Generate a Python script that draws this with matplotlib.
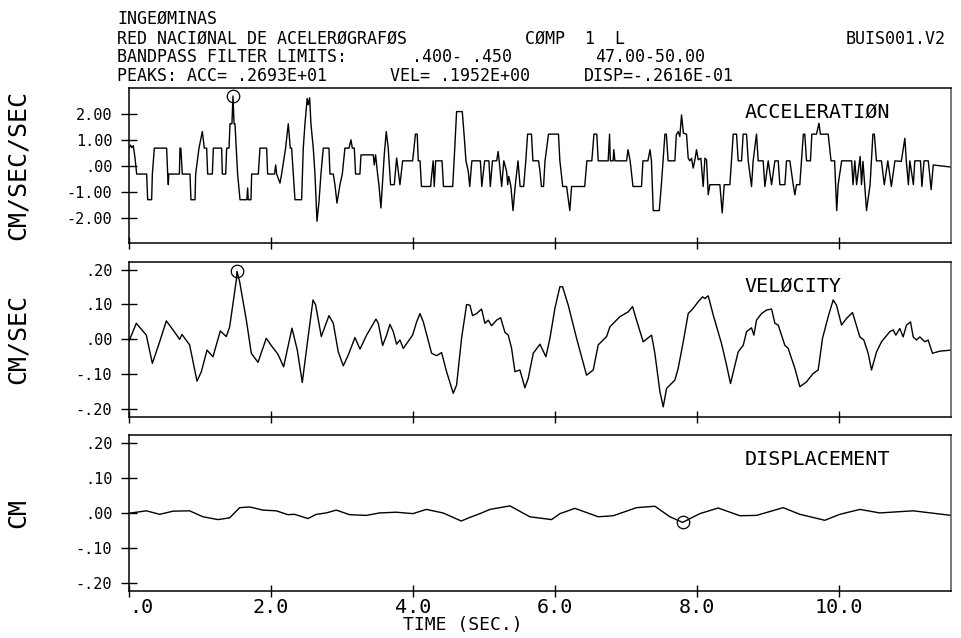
import matplotlib
matplotlib.use('Agg')
import matplotlib.pyplot as plt

plt.rcParams['font.family'] = ['DejaVu Sans Mono']

# acceleration (cm/s/s)
acc_t = [0.00, 0.02, 0.04, 0.06, 0.085, 0.108, 0.249, 0.263, 0.319, 0.329, 0.357, 0.53, 0.545, 0.554, 0.56,
         0.71, 0.718, 0.73, 0.751, 0.859, 0.873, 0.93, 0.939, 0.986, 1.033, 1.061, 1.094, 1.108, 1.174, 1.188,
         1.305, 1.315, 1.362, 1.376, 1.409, 1.423, 1.45, 1.465, 1.48, 1.493, 1.53, 1.564, 1.66, 1.671, 1.68,
         1.718, 1.728, 1.822, 1.845, 1.939, 1.953, 2.05, 2.066, 2.08, 2.127, 2.15, 2.206, 2.244, 2.272, 2.291,
         2.338, 2.432, 2.455, 2.479, 2.51, 2.525, 2.545, 2.563, 2.596, 2.62, 2.648, 2.676, 2.704, 2.737, 2.817,
         2.831, 2.878, 2.901, 2.93, 2.972, 3.005, 3.042, 3.099, 3.127, 3.146, 3.174, 3.192, 3.253, 3.268, 3.441,
         3.455, 3.474, 3.502, 3.521, 3.549, 3.573, 3.596, 3.624, 3.652, 3.685, 3.737, 3.77, 3.817,
         3.855, 3.995, 4.01, 4.035, 4.06, 4.075, 4.10, 4.12, 4.25, 4.26, 4.285, 4.30, 4.32, 4.41, 4.43, 4.56,
         4.58, 4.615, 4.695, 4.72, 4.747, 4.78, 4.80, 4.83, 4.95, 4.97, 5.01, 5.07, 5.09, 5.12, 5.18, 5.20,
         5.215, 5.25, 5.28, 5.32, 5.335, 5.35, 5.38, 5.41, 5.44, 5.48, 5.51, 5.56, 5.59, 5.615, 5.67, 5.69,
         5.77, 5.79, 5.81, 5.84, 5.86, 5.91, 6.05, 6.07, 6.11, 6.165, 6.21, 6.235, 6.42, 6.45, 6.52, 6.55,
         6.59, 6.61, 6.75, 6.77, 6.78, 6.82, 6.83, 6.845, 7.01, 7.03, 7.06, 7.10, 7.22, 7.24, 7.31, 7.34,
         7.36, 7.385, 7.47, 7.50, 7.55, 7.57, 7.595, 7.69, 7.71, 7.737, 7.76, 7.784, 7.81, 7.854, 7.878, 7.90,
         7.925, 7.948, 7.972, 7.995, 8.019, 8.056, 8.089, 8.113, 8.136, 8.16, 8.183, 8.30, 8.324, 8.357, 8.385,
         8.465, 8.512, 8.559, 8.582, 8.629, 8.652, 8.70, 8.723, 8.77, 8.793, 8.84, 8.864, 8.934, 8.958, 9.005,
         9.052, 9.099, 9.146, 9.169, 9.24, 9.263, 9.31, 9.357, 9.38, 9.404, 9.45, 9.474, 9.50, 9.52, 9.545,
         9.60, 9.62, 9.685, 9.72, 9.74, 9.85, 9.89, 9.94, 9.97, 9.99, 10.04, 10.18, 10.20, 10.225, 10.25,
         10.30, 10.32, 10.34, 10.39, 10.44, 10.48, 10.50, 10.53, 10.60, 10.64, 10.69, 10.74, 10.79, 10.88,
         10.93, 10.95, 10.98, 11.0, 11.05, 11.07, 11.15, 11.17, 11.20, 11.26, 11.30, 11.33, 11.58]
acc_v = [0.68, 0.80, 0.70, 0.78, 0.30, -0.32, -0.32, -1.31, -1.31, -0.32, 0.68, 0.68, -0.32, -0.73, -0.32,
         -0.32, 0.68, 0.68, -0.32, -0.32, -1.31, -1.31, -0.32, 0.68, 1.32, 0.68, 0.68, -0.32, -0.32, 0.68,
         0.68, -0.32, -0.32, 0.68, 0.68, 1.62, 1.62, 2.69, 1.62, 1.62, -0.32, -1.31, -1.31, -0.86, -1.31,
         -1.31, -0.32, -0.32, 0.68, 0.68, -0.32, -0.32, 0.03, -0.32, -0.67, -0.32, 0.68, 1.62, 0.68, 0.68,
         -1.31, -1.31, 0.68, 1.62, 2.60, 2.35, 2.62, 1.62, 0.68, -0.32, -2.14, -1.40, -0.32, 0.68, 0.68,
         -0.32, -0.32, -0.73, -1.44, -0.73, -0.32, 0.68, 0.68, 1.00, 0.68, 0.68, -0.32, -0.32, 0.42, 0.42,
         0.03, 0.42, -0.32, -0.73, -1.63, -0.60, 0.42, 1.32, 0.68, -0.73, -0.73, 0.30, -0.73,
         0.19, 0.19, 0.55, 1.22, 1.22, 0.19, 0.19, -0.80, -0.80, -0.47, 0.19, -0.80, 0.19, 0.19, -0.80, -0.80,
         0.19, 2.09, 2.09, 1.22, 0.19, -0.22, -0.80, 0.19, 0.19, -0.80, 0.19, 0.19, -0.80, 0.19, 0.19, 0.55,
         0.19, -0.80, 0.19, -0.22, -0.73, -0.41, -0.80, -1.73, -0.80, 0.19, -0.80, -0.80, 0.19, 1.22, 1.22, 0.19,
         0.19, -0.22, -0.80, -0.80, 0.17, 1.22, 1.22, 0.19, -0.80, -0.80, -1.73, -0.80, -0.80, 0.19, 0.19, 1.22,
         1.22, 0.19, 0.19, 1.22, 0.19, 0.19, 0.62, 0.19, 0.19, 0.62, 0.19, -0.80, -0.80, 0.19, 0.19, 0.62,
         0.19, -1.73, -1.73, -0.73, 1.22, 1.22, 0.19, 0.19, 1.19, 1.32, 1.13, 1.96, 1.26, 1.22, 0.29, 0.19,
         0.29, -0.09, 0.23, 0.62, 0.23, 0.29, -0.80, 0.29, 0.23, -1.12, -0.73, -0.73, -0.73, -1.82, -0.73,
         -0.73, 1.22, 1.22, 0.19, 0.19, 1.22, 1.22, 0.19, -0.80, 0.19, 1.22, 0.19, 0.19, -0.80, 0.19,
         -0.73, 0.19, 0.19, -0.73, -0.73, 0.19, 0.19, -0.73, -1.12, -0.73, -0.73, 0.19, 1.22, 1.22, 0.19,
         0.19, 1.22, 1.22, 1.64, 1.22, 1.22, 0.19, 0.19, -1.73, -0.73, 0.19, 0.19, -0.73, 0.19, -0.73,
         0.36, -0.73, 0.17, -1.73, -0.73, 1.22, 1.22, 0.19, 0.19, -0.73, 0.19, -0.80, 0.19, 0.17,
         1.06, 0.19, -0.73, 0.19, -0.73, 0.19, 0.19, -0.80, 0.19, 0.19, -0.92, 0.03, -0.05]

# velocity (cm/s)
vel_t = [0.0, 0.103, 0.244, 0.329, 0.432, 0.526, 0.62, 0.714, 0.746, 0.854, 0.958, 1.019, 1.099, 1.183,
         1.286, 1.371, 1.418, 1.512, 1.521, 1.559, 1.653, 1.723, 1.817, 1.934, 2.005, 2.099, 2.178, 2.296,
         2.371, 2.441, 2.521, 2.592, 2.629, 2.709, 2.817, 2.878, 2.948, 3.019, 3.089, 3.183, 3.254, 3.347,
         3.479, 3.512, 3.573, 3.629, 3.676, 3.723, 3.77, 3.817, 3.864, 3.995, 4.052, 4.099, 4.146, 4.263,
         4.333, 4.404, 4.474, 4.568, 4.615, 4.685, 4.756, 4.803, 4.84, 4.897, 4.967, 5.014, 5.061, 5.108,
         5.178, 5.235, 5.296, 5.343, 5.39, 5.437, 5.507, 5.577, 5.624, 5.695, 5.789, 5.873, 5.93, 6.0,
         6.07, 6.108, 6.188, 6.305, 6.446, 6.54, 6.61, 6.728, 6.775, 6.915, 7.033, 7.094, 7.15, 7.244,
         7.362, 7.408, 7.479, 7.526, 7.573, 7.69, 7.737, 7.808, 7.878, 7.948, 8.019, 8.08, 8.113, 8.16,
         8.23, 8.347, 8.418, 8.474, 8.582, 8.653, 8.7, 8.77, 8.803, 8.84, 8.911, 8.981, 9.052, 9.099,
         9.146, 9.239, 9.286, 9.38, 9.451, 9.545, 9.638, 9.709, 9.77, 9.85, 9.92, 9.967, 10.038, 10.108,
         10.192, 10.296, 10.352, 10.413, 10.46, 10.531, 10.601, 10.718, 10.765, 10.803, 10.859, 10.906,
         10.953, 11.01, 11.047, 11.094, 11.141, 11.211, 11.258, 11.319, 11.423, 11.58]
vel_v = [-0.005, 0.046, 0.012, -0.069, -0.007, 0.053, 0.027, 0.0, 0.014, -0.016, -0.12, -0.093, -0.031,
         -0.05, 0.024, 0.008, 0.036, 0.170, 0.195, 0.165, 0.055, -0.04, -0.066, 0.003, -0.018, -0.043,
         -0.079, 0.032, -0.031, -0.124, 0.003, 0.113, 0.099, 0.008, 0.068, 0.046, -0.036, -0.076, -0.045,
         0.005, -0.028, 0.012, 0.058, 0.046, -0.018, 0.012, 0.043, 0.022, -0.014, -0.002, -0.026, 0.012,
         0.050, 0.074, 0.050, -0.040, -0.047, -0.038, -0.093, -0.155, -0.131, 0.003, 0.100, 0.098, 0.068,
         0.074, 0.087, 0.046, 0.055, 0.039, 0.055, 0.062, 0.020, 0.012, -0.026, -0.093, -0.088, -0.139,
         -0.112, -0.040, -0.014, -0.050, 0.003, 0.089, 0.151, 0.151, 0.098, 0.003, -0.103, -0.088, -0.016,
         0.008, 0.036, 0.065, 0.079, 0.094, 0.055, -0.007, 0.012, -0.040, -0.150, -0.194, -0.141, -0.117,
         -0.083, -0.007, 0.074, 0.089, 0.108, 0.122, 0.117, 0.125, 0.070, -0.012, -0.074, -0.127, -0.036,
         -0.017, 0.022, 0.033, 0.012, 0.055, 0.074, 0.084, 0.087, 0.046, 0.041, -0.017, -0.026, -0.083,
         -0.136, -0.122, -0.098, -0.088, 0.003, 0.065, 0.113, 0.098, 0.041, 0.060, 0.077, 0.007, -0.002,
         -0.040, -0.088, -0.036, -0.007, 0.022, 0.027, 0.012, 0.031, 0.007, 0.041, 0.050, 0.007, -0.002,
         0.007, -0.007, -0.002, -0.040, -0.034, -0.031]

# displacement (cm)
dis_t = [0.0, 0.244, 0.432, 0.62, 0.854, 1.042, 1.254, 1.418, 1.559, 1.70, 1.887, 2.075, 2.239, 2.333,
         2.521, 2.638, 2.779, 2.92, 3.108, 3.343, 3.531, 3.765, 4.0, 4.188, 4.423, 4.681, 4.798, 4.944,
         5.085, 5.366, 5.648, 5.953, 6.071, 6.282, 6.611, 6.822, 7.15, 7.409, 7.62, 7.798, 8.042, 8.30,
         8.606, 8.84, 9.216, 9.451, 9.803, 10.014, 10.296, 10.577, 11.047, 11.58]
dis_v = [0.0, 0.007, -0.003, 0.006, 0.007, -0.010, -0.018, -0.013, 0.016, 0.018, 0.009, 0.007, -0.004,
         -0.003, -0.015, -0.003, 0.001, 0.009, -0.004, -0.006, 0.001, 0.003, -0.001, 0.011, 0.001, -0.022,
         -0.012, -0.001, 0.011, 0.021, -0.010, -0.018, -0.001, 0.014, -0.010, -0.007, 0.016, 0.020, -0.010,
         -0.026, -0.001, 0.015, -0.007, -0.006, 0.016, -0.003, -0.020, -0.003, 0.011, 0.001, 0.007, -0.006]

# peak values marked with a circle
peak_acc = (1.465, 2.693)
peak_vel = (1.517, 0.1952)
peak_dis = (7.80, -0.02616)

x_ticks = [0, 2, 4, 6, 8, 10]
x_labels = ['.0', '2.0', '4.0', '6.0', '8.0', '10.0']
acc_ticks = [-2, -1, 0, 1, 2]
acc_labels = ['-2.00', '-1.00', '.00', '1.00', '2.00']
vd_ticks = [-0.2, -0.1, 0, 0.1, 0.2]
vd_labels = ['-.20', '-.10', '.00', '.10', '.20']

W, H = 961, 638
fig = plt.figure(figsize=(W / 100, H / 100), dpi=100)


def box(top, bottom):
    return [129 / W, 1 - bottom / H, (951 - 129) / W, (bottom - top) / H]


ax1 = fig.add_axes(box(88, 243))
ax2 = fig.add_axes(box(262, 417))
ax3 = fig.add_axes(box(435, 590.5))

ax1.plot(acc_t, acc_v, color='k', lw=1.0)
ax2.plot(vel_t, vel_v, color='k', lw=1.0)
ax3.plot(dis_t, dis_v, color='k', lw=1.0)

ax1.plot(*peak_acc, 'o', ms=9, mfc='none', mec='k', mew=0.9)
ax2.plot(*peak_vel, 'o', ms=9, mfc='none', mec='k', mew=0.9)
ax3.plot(*peak_dis, 'o', ms=9, mfc='none', mec='k', mew=0.9)

ax1.set_ylim(-2.98, 3.0)
ax2.set_ylim(-0.223, 0.222)
ax3.set_ylim(-0.22, 0.223)

for ax, name, ylab, ticks, labels in [(ax1, 'ACCELERATIØN', 'CM/SEC/SEC', acc_ticks, acc_labels),
                                      (ax2, 'VELØCITY', 'CM/SEC', vd_ticks, vd_labels),
                                      (ax3, 'DISPLACEMENT', 'CM', vd_ticks, vd_labels)]:
    ax.set_xlim(0, 11.58)
    ax.set_xticks(x_ticks)
    ax.set_yticks(ticks)
    ax.set_yticklabels(labels)
    ax.tick_params(axis='y', direction='inout', length=11, width=1.0, pad=6.5, labelsize=11)
    ax.tick_params(axis='x', direction='inout', length=8.6, width=1.0, pad=1, labelsize=14.5)
    for s in ax.spines.values():
        s.set_linewidth(1.1)
    ax.spines['right'].set_color('#555555')
    ax.text(0.749, 0.845, name, transform=ax.transAxes, ha='left', va='center', fontsize=14.5)
    ax.set_ylabel(ylab, fontsize=18, va='center')
    ax.yaxis.set_label_coords(-0.135, 0.5)

ax1.tick_params(axis='x', labelbottom=False)
ax2.tick_params(axis='x', labelbottom=False)
ax3.set_xticklabels(x_labels)
ax3.get_xticklabels()[0].set_ha('left')
ax3.set_xlabel('TIME (SEC.)', fontsize=13, va='center')
ax3.xaxis.set_label_coords(0.406, -0.222)

# header
hdr = dict(fontsize=12, va='center', ha='left')
fig.text(117 / W, 1 - 19 / H, 'INGEØMINAS', **hdr)
fig.text(117 / W, 1 - 39 / H, 'RED NACIØNAL DE ACELERØGRAFØS', **hdr)
fig.text(525 / W, 1 - 39 / H, 'CØMP  1  L', **hdr)
fig.text(846 / W, 1 - 39 / H, 'BUIS001.V2', **hdr)
fig.text(117 / W, 1 - 57.5 / H, 'BANDPASS FILTER LIMITS:', **hdr)
fig.text(412 / W, 1 - 57.5 / H, '.400- .450', **hdr)
fig.text(595 / W, 1 - 57.5 / H, '47.00-50.00', **hdr)
fig.text(117 / W, 1 - 76 / H, 'PEAKS: ACC= .2693E+01', **hdr)
fig.text(390 / W, 1 - 76 / H, 'VEL= .1952E+00', **hdr)
fig.text(584 / W, 1 - 76 / H, 'DISP=-.2616E-01', **hdr)

fig.savefig('out.png', dpi=100)
